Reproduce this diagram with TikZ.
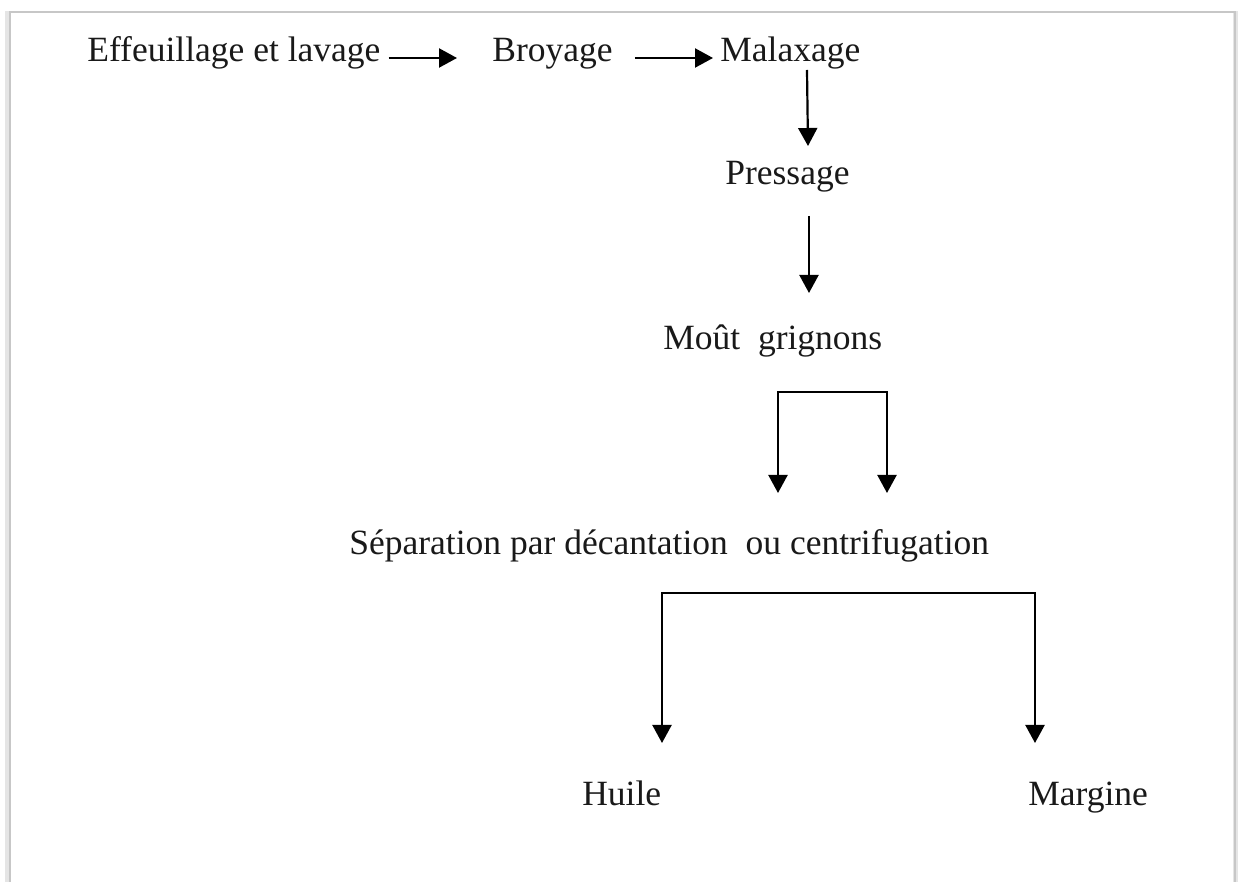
\documentclass[tikz,border=0pt]{standalone}
\usepackage{fontspec}
\setmainfont{Liberation Serif}
\usetikzlibrary{arrows.meta,calc}
\begin{document}
\begin{tikzpicture}[x=0.2mm,y=-0.2mm,
  label/.style={anchor=base west,inner sep=0pt,font=\fontsize{20.2}{24}\selectfont,text=black!90},
  flow/.style={line width=1.25pt,-{Triangle[length=3.6mm,width=3.8mm]}},
  split/.style={line width=1.25pt,{Triangle[length=3.6mm,width=3.8mm]}-{Triangle[length=3.6mm,width=3.8mm]}},
  frameline/.style={line width=0.6pt,draw=black!22},
  frameshadow/.style={line width=3pt,draw=black!10}]
\useasboundingbox (0,0) rectangle (1238,882);
% page frame with a faint shadow
\draw[frameshadow] (8,890) -- (8,11);
\draw[frameshadow] (1236,11) -- (1236,890);
\draw[frameline] (10,890) -- (10,12) -- (1235,12) -- (1235,890);

% steps
\node[label] (eff)  at (87,62)   {Effeuillage et lavage};
\node[label] (broy) at (492,62)  {Broyage};
\node[label] (mal)  at (720,62)  {Malaxage};
\node[label] (press) at (725,185) {Pressage};
\node[label] (mout) at (663,350) {Moût\ \ grignons};
\node[label] (sep)  at (349,555) {Séparation par décantation\ \ ou centrifugation};
\node[label] (huile) at (582,805) {Huile};
\node[label] (marg) at (1028,805) {Margine};

% connectors
\draw[flow] ($(eff.base east)+(8,-4)$) -- ($(broy.base west)+(-35,-4)$);
\draw[flow] ($(broy.base east)+(22,-4)$) -- ($(mal.base west)+(-7,-4)$);
\draw[flow] ($(mal.base west)+(87,8)$) -- ($(press.base west)+(83,-39)$);
\draw[flow] ($(press.base west)+(84,31)$) -- ($(mout.base west)+(146,-57)$);

\coordinate (mtl) at ($(mout.base west)+(115,42)$);
\coordinate (mtr) at ($(mout.base west)+(224,42)$);
\draw[split] ($(sep.base west)+(429,-62)$) -- (mtl) -- (mtr) -- ($(sep.base west)+(538,-62)$);

\coordinate (stl) at ($(sep.base west)+(313,38)$);
\coordinate (str) at ($(sep.base west)+(686,38)$);
\draw[split] ($(huile.base west)+(80,-62)$) -- (stl) -- (str) -- ($(marg.base west)+(7,-62)$);
\end{tikzpicture}
\end{document}
